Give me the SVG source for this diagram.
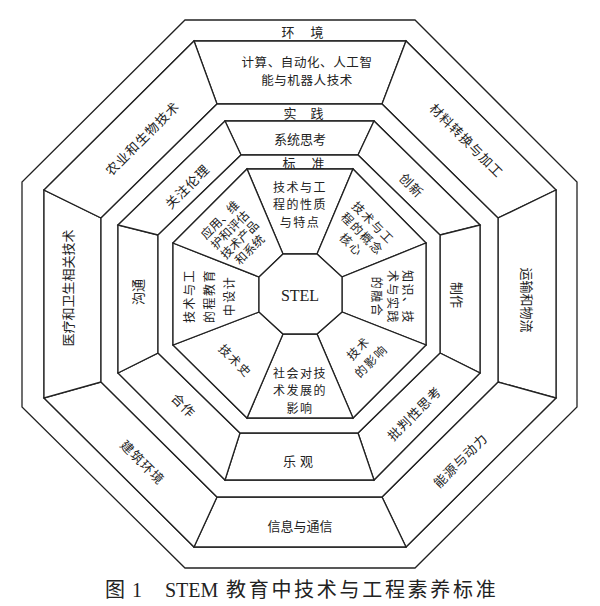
<svg xmlns="http://www.w3.org/2000/svg" width="600" height="606" viewBox="0 0 600 606">
<style>
.s{fill:#fff;stroke:#222;stroke-width:1.3;stroke-linejoin:miter}
.r{fill:#fff;stroke:#222;stroke-width:1.3;fill-rule:evenodd}
text{font-family:"Noto Sans CJK SC","Noto Sans",sans-serif;font-size:13px;fill:#222;text-anchor:middle;dominant-baseline:central}
.d{letter-spacing:1px}
.m{font-size:12px;letter-spacing:1.5px}
.stel{font-family:"Liberation Serif",serif;font-size:16px}
.cap{font-size:20px;dominant-baseline:auto;text-anchor:start}
</style>
<rect width="600" height="606" fill="#fff"/>
<!-- outer ring 环境 -->
<g id="ring-env">
<path class="r" d="M185,20 L415,20 L577,182 L577,407 L415,568 L185,568 L22,407 L22,182 Z M194,41 L44,190 L44,398 L194,547 L406,547 L556,398 L556,190 L406,41 Z"/>
<text x="288 317" y="31">环境</text>
</g>
<!-- layer B -->
<g id="b-top"><polygon class="s" points="194,41 406,41 382,104 217,104"/>
<text x="307" y="61" style="font-size:12.5px;letter-spacing:0.6px">计算、自动化、人工智</text><text x="307" y="79.5" style="font-size:12.5px;letter-spacing:0.6px">能与机器人技术</text></g>
<g id="b-tr"><polygon class="s" points="406,41 556,190 498,218 382,104"/>
<text class="d" transform="translate(467,140) rotate(45)">材料转换与加工</text></g>
<g id="b-r"><polygon class="s" points="556,190 556,398 498,382 498,218"/>
<text transform="translate(527,300) rotate(90)">运输和物流</text></g>
<g id="b-br"><polygon class="s" points="556,398 406,547 382,497 498,382"/>
<text class="d" transform="translate(460,460) rotate(-45)">能源与动力</text></g>
<g id="b-b"><polygon class="s" points="406,547 194,547 217,497 382,497"/>
<text x="300" y="525">信息与通信</text></g>
<g id="b-bl"><polygon class="s" points="194,547 44,398 101,382 217,497"/>
<text class="d" transform="translate(143,462) rotate(45)">建筑环境</text></g>
<g id="b-l"><polygon class="s" points="44,398 44,190 101,218 101,382"/>
<text transform="translate(67,288) rotate(-90)">医疗和卫生相关技术</text></g>
<g id="b-tl"><polygon class="s" points="44,190 194,41 217,104 101,218"/>
<text class="d" transform="translate(142,138) rotate(-45)">农业和生物技术</text></g>
<!-- ring 实践 -->
<g id="ring-practice">
<path class="r" d="M217,104 L382,104 L498,218 L498,382 L382,497 L217,497 L101,382 L101,218 Z M225,121 L118,225 L118,373 L225,480 L374,480 L480,373 L480,225 L374,121 Z"/>
<text x="290 317" y="112">实践</text>
</g>
<!-- layer D -->
<g id="d-top"><polygon class="s" points="225,121 374,121 358,155 241,155"/>
<text x="300" y="138">系统思考</text></g>
<g id="d-tr"><polygon class="s" points="374,121 480,225 440,235 358,155"/>
<text class="d" transform="translate(412,185) rotate(45)">创新</text></g>
<g id="d-r"><polygon class="s" points="480,225 480,373 440,353 440,235"/>
<text transform="translate(457,295) rotate(90)">制作</text></g>
<g id="d-br"><polygon class="s" points="480,373 374,480 358,433 440,353"/>
<text class="d" transform="translate(414,413) rotate(-45)">批判性思考</text></g>
<g id="d-b"><polygon class="s" points="374,480 225,480 240,433 358,433"/>
<text x="300" y="460" style="letter-spacing:4px">乐观</text></g>
<g id="d-bl"><polygon class="s" points="225,480 118,373 158,353 240,433"/>
<text class="d" transform="translate(184,405) rotate(45)">合作</text></g>
<g id="d-l"><polygon class="s" points="118,373 118,225 158,235 158,353"/>
<text transform="translate(137,292) rotate(-90)">沟通</text></g>
<g id="d-tl"><polygon class="s" points="118,225 225,121 241,155 158,235"/>
<text class="d" transform="translate(187,186) rotate(-45)">关注伦理</text></g>
<!-- ring 标准 -->
<g id="ring-standard">
<path class="r" d="M241,155 L358,155 L440,235 L440,353 L358,433 L240,433 L158,353 L158,235 Z M247,169 L173,243 L173,345 L247,418 L353,418 L426,345 L426,243 L353,169 Z"/>
<text x="289 318" y="162">标准</text>
</g>
<!-- layer F -->
<g id="f-top"><polygon class="s" points="247,169 353,169 317,254 283,254"/>
<text class="m" x="300" y="186">技术与工</text><text class="m" x="300" y="203.5">程的性质</text><text class="m" x="300" y="221">与特点</text></g>
<g id="f-tr"><polygon class="s" points="353,169 426,243 342,277 317,254"/>
<g transform="translate(363,233) rotate(45)"><text class="m" y="-15.5">技术与工</text><text class="m" y="0">程的概念</text><text class="m" y="15.5">核心</text></g></g>
<g id="f-r"><polygon class="s" points="426,243 426,345 342,312 342,277"/>
<g transform="translate(393,297) rotate(90)"><text class="m" y="-15.5">知识、技</text><text class="m" y="0">术与实践</text><text class="m" y="15.5">的融合</text></g></g>
<g id="f-br"><polygon class="s" points="426,345 353,418 317,334 342,312"/>
<g transform="translate(364,354) rotate(-45)"><text class="m" y="-9">技术</text><text class="m" y="9">的影响</text></g></g>
<g id="f-b"><polygon class="s" points="353,418 247,418 283,334 317,334"/>
<text class="m" x="300" y="372">社会对技</text><text class="m" x="300" y="389.5">术发展的</text><text class="m" x="300" y="407">影响</text></g>
<g id="f-bl"><polygon class="s" points="247,418 173,345 259,312 283,334"/>
<text class="m" transform="translate(236,360) rotate(45)">技术史</text></g>
<g id="f-l"><polygon class="s" points="173,345 173,243 259,277 259,312"/>
<g transform="translate(208,296) rotate(-90)"><text class="m" y="-20">技术与工</text><text class="m" y="0">的程教育</text><text class="m" y="20">中设计</text></g></g>
<g id="f-tl"><polygon class="s" points="173,243 247,169 283,254 259,277"/>
<g transform="translate(234,234) rotate(-45)"><text y="-21" style="font-size:12px">应用、维</text><text y="-7" style="font-size:12px">护和评估</text><text y="7" style="font-size:12px">技术产品</text><text y="21" style="font-size:12px">和系统</text></g></g>
<!-- center -->
<g id="stel"><polygon class="s" points="283,254 317,254 342,277 342,312 317,334 283,334 259,312 259,277"/>
<text class="stel" x="300" y="295">STEL</text></g>
<g id="connectors"></g>
<!-- caption -->
<g id="caption">
<text class="cap" x="105" y="597">图</text>
<text class="cap" x="132" y="597" style="font-family:'Liberation Serif',serif">1</text>
<text class="cap" x="165" y="597" style="font-family:'Liberation Serif',serif">STEM</text>
<text class="cap" x="226" y="597" style="letter-spacing:2.7px">教育中技术与工程素养标准</text>
</g>
</svg>
